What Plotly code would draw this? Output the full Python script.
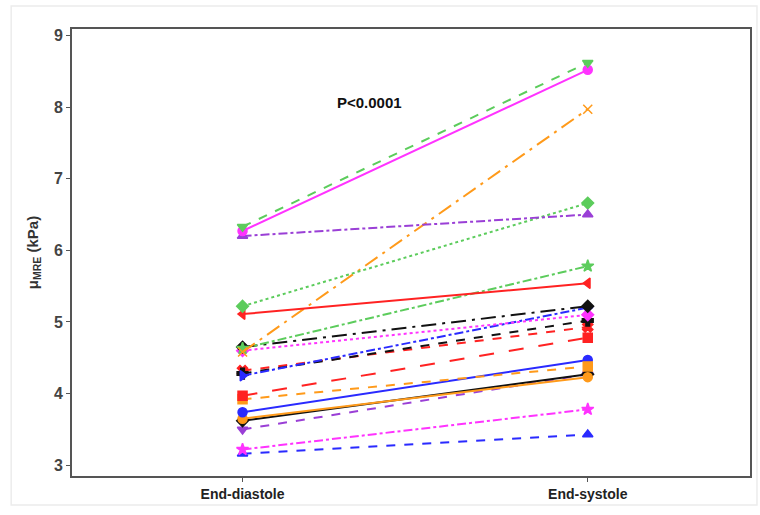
import plotly.graph_objects as go

# Paired stiffness measurements per subject (kPa)
phases = ["End-diastole", "End-systole"]
diastole = [6.33, 6.27, 6.20, 5.22, 5.11, 4.58, 4.63, 4.65, 4.60, 4.25,
            4.28, 4.32, 3.97, 3.92, 3.74, 3.65, 3.62, 3.50, 3.22, 3.16]
systole = [8.62, 8.52, 6.50, 6.66, 5.54, 7.97, 5.78, 5.22, 5.10, 5.20,
           5.02, 4.93, 4.78, 4.38, 4.47, 4.23, 4.27, 4.27, 3.78, 3.43]

GREEN = "#5ccc5c"
MAGENTA = "#ff33ff"
PURPLE = "#9a3fd6"
RED = "#ff2222"
ORANGE = "#ff9a1a"
BLACK = "#111111"
BLUE = "#2a2aff"

colors = [GREEN, MAGENTA, PURPLE, GREEN, RED, ORANGE, GREEN, BLACK, MAGENTA, BLUE,
          BLACK, RED, RED, ORANGE, BLUE, ORANGE, BLACK, PURPLE, MAGENTA, BLUE]
dashes = ["dash", "solid", "dashdot", "dot", "solid", "longdashdot", "dashdot",
          "longdashdot", "dot", "dashdot", "dash", "dash", "longdash", "dash",
          "solid", "solid", "solid", "dash", "dashdot", "dash"]
symbols = ["triangle-down", "circle", "triangle-up", "diamond", "triangle-left",
           "x-thin", "star", "diamond", "diamond", "triangle-right", "cross",
           "x", "square", "square", "circle", "circle", "diamond",
           "triangle-down", "star", "triangle-up"]

fig = go.Figure()
# draw in reverse so the upper series sit on top of the lower ones
for d, s, c, ds, sym in list(zip(diastole, systole, colors, dashes, symbols))[::-1]:
    fig.add_trace(go.Scatter(
        x=[0, 1], y=[d, s], mode="lines+markers",
        line=dict(color=c, width=2, dash=ds),
        marker=dict(color=c, size=9, symbol=sym,
                    line=dict(color=c, width=1.5)),
        showlegend=False, hoverinfo="skip",
    ))

fig.add_annotation(x=0.367, y=8.06, text="<b>P&lt;0.0001</b>", showarrow=False,
                   font=dict(size=15, color="#111111", family="Liberation Sans"))

# faint outer frame around the whole figure
fig.add_shape(type="rect", xref="paper", yref="paper",
              x0=-0.0897, x1=1.0103, y0=-0.0649, y1=1.0515,
              line=dict(color="#ececec", width=1.5), layer="below")

fig.update_layout(
    width=760, height=515,
    margin=dict(l=72, r=8, t=29, b=39),
    paper_bgcolor="white", plot_bgcolor="white",
    font=dict(family="Liberation Sans", color="#333333"),
)
fig.update_xaxes(
    range=[-0.494, 1.47], tickvals=[0, 1], ticktext=[f"<b>{p}</b>" for p in phases],
    showgrid=False, zeroline=False, showline=True, linecolor="#555555",
    linewidth=2, mirror=True, ticks="outside", ticklen=4, tickcolor="#555555",
    tickfont=dict(size=14, color="#222222"),
)
fig.update_yaxes(
    range=[2.85, 9.09], tickvals=[3, 4, 5, 6, 7, 8, 9],
    ticktext=[f"<b>{v}</b>" for v in [3, 4, 5, 6, 7, 8, 9]],
    showgrid=False, zeroline=False, showline=True, linecolor="#555555",
    linewidth=2, mirror=True, ticks="outside", ticklen=4, tickcolor="#555555",
    tickfont=dict(size=16, color="#444444"),
    title=dict(text="<b>μ<sub>MRE</sub> (kPa)</b>", standoff=12,
               font=dict(size=15, color="#333333")),
)

fig.write_html("out.html")
